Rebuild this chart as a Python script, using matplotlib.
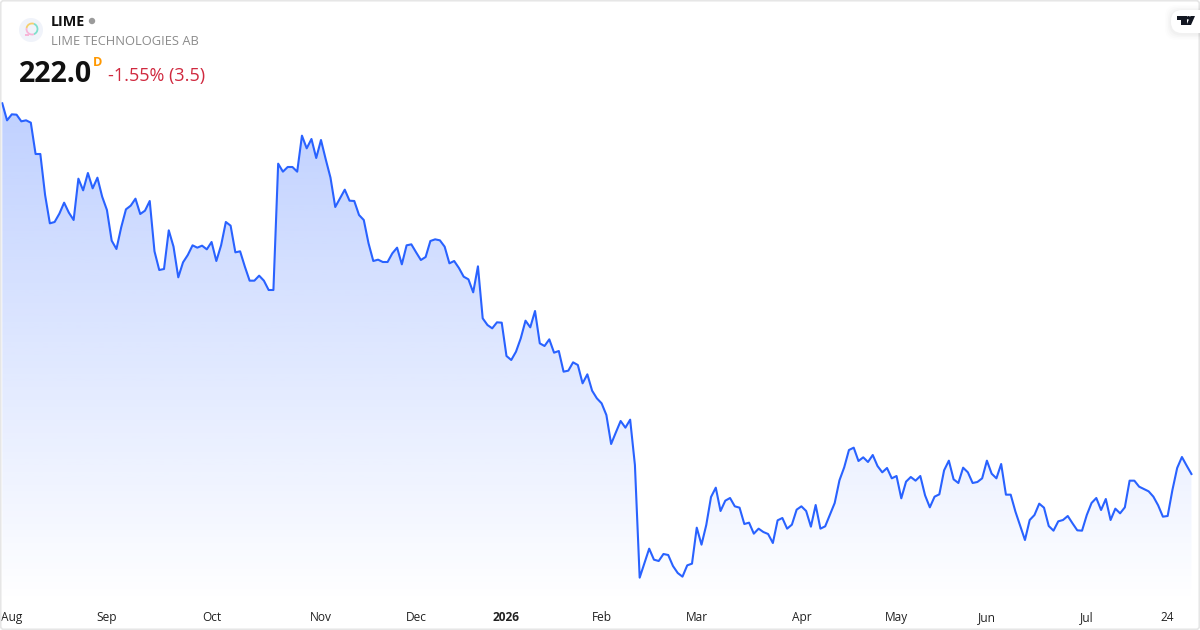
import numpy as np
import matplotlib
matplotlib.use("Agg")
import matplotlib.pyplot as plt
from matplotlib.patches import Circle, Arc, FancyBboxPatch, Polygon

plt.rcParams['font.family'] = ['Open Sans', 'DejaVu Sans']

# daily closes (last one is the 222.0 in the header)
prices = [
    444.4, 434.2, 437.8, 437.6, 433.6, 434.2, 432.8, 414.0, 414.0, 389.4,
    372.4, 373.2, 378.2, 384.8, 378.8, 374.4, 399.2, 392.2, 402.6, 393.4,
    399.8, 388.4, 380.4, 362.0, 357.0, 370.0, 380.8, 383.0, 387.2, 378.0,
    380.0, 385.8, 355.6, 344.4, 345.0, 368.2, 358.4, 340.0, 349.0, 353.4,
    359.2, 357.8, 359.0, 356.8, 361.2, 349.8, 359.2, 373.2, 371.0, 355.0,
    355.6, 346.4, 338.0, 338.0, 341.0, 338.0, 332.4, 332.4, 408.2, 403.4,
    406.2, 406.2, 403.4, 425.0, 417.4, 423.0, 411.6, 422.4, 410.8, 399.8,
    382.2, 387.4, 392.6, 386.0, 385.8, 377.4, 374.4, 360.4, 349.8, 350.6,
    349.2, 349.2, 354.4, 357.8, 347.8, 359.2, 359.8, 355.0, 350.4, 352.2,
    361.8, 362.8, 362.2, 358.4, 348.4, 349.8, 345.6, 340.4, 338.8, 331.0,
    346.6, 315.4, 311.4, 309.4, 313.0, 312.8, 292.8, 290.4, 295.4, 303.4,
    314.0, 310.0, 319.8, 300.4, 298.8, 302.8, 294.8, 295.8, 283.4, 284.0,
    289.0, 287.4, 276.4, 281.8, 272.0, 267.4, 264.4, 257.4, 240.0, 247.0,
    253.8, 249.8, 254.6, 227.4, 159.8, 168.4, 177.2, 170.6, 169.8, 174.0,
    173.4, 166.8, 162.6, 160.4, 167.2, 168.2, 189.8, 179.6, 191.4, 208.2,
    213.8, 199.8, 206.0, 207.6, 202.6, 201.8, 192.0, 192.8, 186.2, 189.2,
    187.2, 186.0, 180.6, 194.2, 195.6, 189.2, 191.6, 200.6, 202.6, 199.8,
    190.4, 203.4, 189.2, 190.6, 197.6, 204.6, 218.2, 226.0, 236.4, 237.8,
    229.8, 232.0, 229.2, 233.4, 226.8, 223.0, 225.6, 219.4, 220.8, 207.4,
    217.4, 220.2, 218.0, 220.8, 209.2, 202.0, 208.4, 209.8, 224.2, 230.0,
    218.8, 216.6, 225.8, 223.0, 216.6, 217.2, 219.4, 230.0, 222.2, 219.4,
    228.0, 209.6, 209.6, 199.4, 190.8, 182.4, 194.4, 197.4, 204.2, 201.8,
    190.8, 188.0, 193.6, 194.4, 196.8, 192.4, 188.2, 188.0, 197.4, 204.6,
    207.6, 200.4, 207.0, 194.4, 201.2, 198.4, 202.0, 218.0, 218.0, 214.4,
    213.0, 211.6, 208.4, 203.2, 196.4, 196.8, 212.4, 225.6, 232.2, 227.0,
    222.0,
]
tick_days = [2, 22, 44, 67, 87, 106, 126, 146, 168, 188, 207, 228, 245]
tick_labels = ['Aug', 'Sep', 'Oct', 'Nov', 'Dec', '2026', 'Feb', 'Mar', 'Apr',
               'May', 'Jun', 'Jul', '24']

symbol = 'LIME'
company = 'LIME TECHNOLOGIES AB'
last_price = '222.0'
change = '-1.55% (3.5)'

LINE = '#2962FF'
INK = '#111111'
days = np.arange(len(prices))

fig = plt.figure(figsize=(12, 6.3), dpi=100, facecolor='white')
ax = fig.add_axes([0, 0, 1, 1], facecolor='white')
for s in ax.spines.values():
    s.set_visible(False)
ax.yaxis.set_visible(False)

# area under the line: blue fading out to nothing going down
fill_base = 144.6
top = max(prices)
area = ax.fill_between(days, prices, fill_base, facecolor='none', edgecolor='none')
grad = np.zeros((256, 1, 4))
grad[:, 0, :3] = matplotlib.colors.to_rgb(LINE)
grad[:, 0, 3] = np.linspace(0.3, 0, 256)
im = ax.imshow(grad, extent=(0, days[-1], fill_base, top), aspect='auto',
               origin='upper', zorder=1, interpolation='bilinear')
im.set_clip_path(area.get_paths()[0], transform=ax.transData)
ax.set_xlim(-0.48, 251.8)
ax.set_ylim(128.4, 506.4)

ax.plot(days, prices, color=LINE, lw=1.5, solid_joinstyle='round', zorder=2)

ax.set_xticks(tick_days)
ax.set_xticklabels(tick_labels, fontsize=8.6, color='#222222', va='baseline')
ax.tick_params(axis='x', direction='in', length=0, pad=-6.5)
for lab in ax.get_xticklabels():
    lab.set_zorder(5)
    if lab.get_text() == '2026':
        lab.set_fontweight('bold')

# header, logos and frame, in pixels of the picture
ov = fig.add_axes([0, 0, 1, 1], facecolor='none')
ov.set_xlim(0, 1200)
ov.set_ylim(630, 0)
ov.axis('off')

ov.add_patch(FancyBboxPatch((0.7, 0.7), 1198.6, 628.6, boxstyle='round,pad=0,rounding_size=3',
                            fc='none', ec='#e6e6e6', lw=1.2))

ov.add_patch(Circle((31, 30), 12, fc='#f0f3fa', ec='none'))
ov.add_patch(Arc((32, 29), 11, 11, theta1=-70, theta2=70, ec='#7fe0cc', lw=1.3))
ov.add_patch(Arc((32, 29), 11, 11, theta1=70, theta2=190, ec='#f7b6d8', lw=1.3))
ov.add_patch(Arc((32, 29), 11, 11, theta1=190, theta2=290, ec='#f5cf6e', lw=1.3))
ov.add_patch(Polygon([(25, 33.5), (29, 33.5), (29, 35.5), (25, 35.5)], fc='#f7b6d8', ec='none'))

ov.text(51, 21.5, symbol, fontsize=10.4, fontweight='bold', color=INK, va='center')
ov.add_patch(Circle((92, 21), 3.2, fc='#9b9b9b', ec='none'))
ov.text(51, 41.5, company, fontsize=9.3, color='#8b8b8b', va='center')
ov.text(18.5, 74.5, last_price, fontsize=20.5, fontweight='bold', color=INK, va='center')
ov.text(93, 62, 'D', fontsize=9.2, fontweight='bold', color='#ff9800', va='center')
ov.text(108, 76, change, fontsize=13, color='#d0293f', va='center')

# tradingview badge
for grow, a in [(6, 0.008), (4.5, 0.012), (3, 0.015), (1.5, 0.02)]:
    ov.add_patch(FancyBboxPatch((1171 - grow, 10 - grow + 1), 50 + grow, 23 + 2 * grow,
                                boxstyle='round,pad=0,rounding_size=11', fc='black',
                                ec='none', alpha=a, clip_on=True))
ov.add_patch(FancyBboxPatch((1171, 10), 50, 23, boxstyle='round,pad=0,rounding_size=11',
                            fc='white', ec='none', clip_on=True))
ov.add_patch(Polygon([(1177, 16), (1186.5, 16), (1186.5, 25), (1181, 25), (1181, 19.5), (1177, 19.5)],
                     fc='#131722', ec='none'))
ov.add_patch(Circle((1188.5, 17.8), 1.8, fc='#131722', ec='none'))
ov.add_patch(Polygon([(1190.5, 16), (1195, 16), (1191, 25), (1186.5, 25)], fc='#131722', ec='none'))

fig.savefig('out.png', dpi=100, facecolor='white')
